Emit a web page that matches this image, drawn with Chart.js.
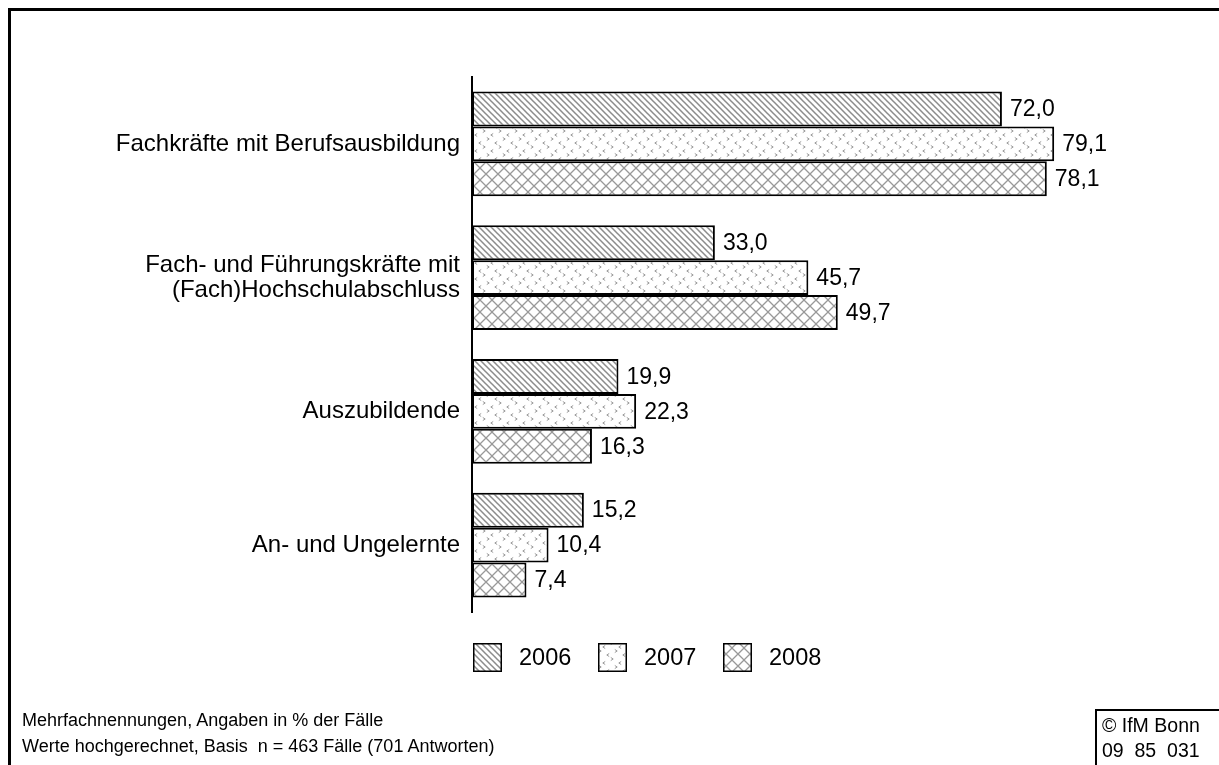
<!DOCTYPE html>
<html lang="de">
<head>
<meta charset="utf-8">
<title>Fachkräfte</title>
<script src="https://cdn.jsdelivr.net/npm/chart.js@4/dist/chart.umd.min.js"></script>
<style>
    body { margin: 0; background: #fff; font-family: "Liberation Sans", Arial, sans-serif; }
    #wrap { position: relative; width: 1219px; height: 765px; overflow: hidden; }
    #chart { position: absolute; left: 0; top: 0; }
    .frame { position: absolute; left: 8px; top: 8px; right: -5px; bottom: -5px; border-top: 3px solid #000; border-left: 3px solid #000; }
    .note { position: absolute; left: 22px; font-size: 18px; line-height: 26px; color: #000; }
    .copy { position: absolute; left: 1095px; top: 709px; right: -5px; bottom: -5px; border-top: 2px solid #000; border-left: 2px solid #000;
            font-size: 19.5px; line-height: 25px; padding: 2px 0 0 5px; white-space: pre; }
</style>
</head>
<body>
<div id="wrap">
    <div class="frame"></div>
    <canvas id="chart" width="1219" height="765"></canvas>
    <div class="note" style="top: 707px;">Mehrfachnennungen, Angaben in % der Fälle</div>
    <div class="note" style="top: 733px; white-space: pre;">Werte hochgerechnet, Basis  n = 463 Fälle (701 Antworten)</div>
    <div class="copy">© IfM Bonn
09  85  031</div>
</div>
<script>
// Daten
const categories = [
    'Fachkräfte mit Berufsausbildung',
    ['Fach- und Führungskräfte mit', '(Fach)Hochschulabschluss'],
    'Auszubildende',
    'An- und Ungelernte'
];
const years = ['2006', '2007', '2008'];
const values2006 = [72.0, 33.0, 19.9, 15.2];
const values2007 = [79.1, 45.7, 22.3, 10.4];
const values2008 = [78.1, 49.7, 16.3, 7.4];

const FONT = '"Liberation Sans", Arial, sans-serif';

// Schraffuren
function makePattern(type) {
    const c = document.createElement('canvas');
    const ctx = c.getContext('2d');
    if (type === 'diag') {
        const s = 6;
        c.width = s; c.height = s;
        ctx.fillStyle = '#fff';
        ctx.fillRect(0, 0, s, s);
        ctx.strokeStyle = '#8c8c8c';
        ctx.lineWidth = 1.5;
        ctx.beginPath();
        ctx.moveTo(-1, -1); ctx.lineTo(s + 1, s + 1);
        ctx.moveTo(-1, s - 1); ctx.lineTo(1, s + 1);
        ctx.moveTo(s - 1, -1); ctx.lineTo(s + 1, 1);
        ctx.stroke();
    } else if (type === 'cross') {
        const s = 12;
        c.width = s; c.height = s;
        ctx.fillStyle = '#fff';
        ctx.fillRect(0, 0, s, s);
        ctx.strokeStyle = '#999';
        ctx.lineWidth = 1.3;
        ctx.beginPath();
        ctx.moveTo(-1, -1); ctx.lineTo(s + 1, s + 1);
        ctx.moveTo(-1, s + 1); ctx.lineTo(s + 1, -1);
        ctx.stroke();
    } else {
        const s = 16;
        c.width = s; c.height = s;
        ctx.fillStyle = '#fff';
        ctx.fillRect(0, 0, s, s);
        ctx.strokeStyle = '#9a9a9a';
        ctx.lineWidth = 1;
        const chevron = (x, y, dir) => {
            ctx.beginPath();
            ctx.moveTo(x - dir * 1.2, y - 1.5);
            ctx.lineTo(x + dir * 1.2, y);
            ctx.lineTo(x - dir * 1.2, y + 1.5);
            ctx.stroke();
        };
        chevron(4, 3, 1);
        chevron(12, 7, -1);
        chevron(8, 11, 1);
        chevron(0, 15, -1);
        chevron(16, 15, -1);
        chevron(0, -1, -1);
        chevron(16, -1, -1);
    }
    return document.createElement('canvas').getContext('2d').createPattern(c, 'repeat');
}

const patterns = [makePattern('diag'), makePattern('dots'), makePattern('cross')];

// Werte rechts neben den Balken
const valueLabels = {
    id: 'valueLabels',
    afterDatasetsDraw(chart) {
        const ctx = chart.ctx;
        ctx.save();
        ctx.font = '23px ' + FONT;
        ctx.fillStyle = '#000';
        ctx.textAlign = 'left';
        ctx.textBaseline = 'middle';
        chart.data.datasets.forEach((ds, i) => {
            chart.getDatasetMeta(i).data.forEach((bar, j) => {
                const txt = ds.data[j].toFixed(1).replace('.', ',');
                ctx.fillText(txt, bar.x + 8, bar.y + 1);
            });
        });
        ctx.restore();
    }
};

// Legende mit Schraffur-Kästchen
const patternLegend = {
    id: 'patternLegend',
    afterDraw(chart) {
        const ctx = chart.ctx;
        const y = 643;
        let x = chart.chartArea.left + 1;
        ctx.save();
        ctx.font = '23.5px ' + FONT;
        ctx.textBaseline = 'middle';
        chart.data.datasets.forEach(ds => {
            ctx.fillStyle = ds.backgroundColor;
            ctx.fillRect(x, y, 29, 29);
            ctx.strokeStyle = '#000';
            ctx.lineWidth = 1.5;
            ctx.strokeRect(x + 0.75, y + 0.75, 27.5, 27.5);
            ctx.fillStyle = '#000';
            ctx.fillText(ds.label, x + 46, y + 16);
            x += 125;
        });
        ctx.restore();
    }
};

new Chart(document.getElementById('chart'), {
    type: 'bar',
    data: {
        labels: categories,
        datasets: [
            { label: years[0], data: values2006, backgroundColor: patterns[0] },
            { label: years[1], data: values2007, backgroundColor: patterns[1] },
            { label: years[2], data: values2008, backgroundColor: patterns[2] }
        ]
    },
    options: {
        indexAxis: 'y',
        responsive: false,
        animation: false,
        devicePixelRatio: 1,
        layout: { padding: { top: 77, bottom: 153, left: 0, right: 11 } },
        datasets: {
            bar: {
                categoryPercentage: 0.785,
                barPercentage: 1,
                borderColor: '#000',
                borderWidth: 2,
                borderSkipped: false
            }
        },
        scales: {
            x: { display: false, min: 0, max: 100 },
            y: {
                grid: { display: false },
                border: { color: '#000', width: 2 },
                ticks: { color: '#000', padding: 4, font: { family: FONT, size: 24, lineHeight: 1.05 } },
                afterFit(scale) { scale.width = 472; }
            }
        },
        plugins: {
            legend: { display: false },
            tooltip: { enabled: false }
        }
    },
    plugins: [valueLabels, patternLegend]
});
</script>
</body>
</html>
